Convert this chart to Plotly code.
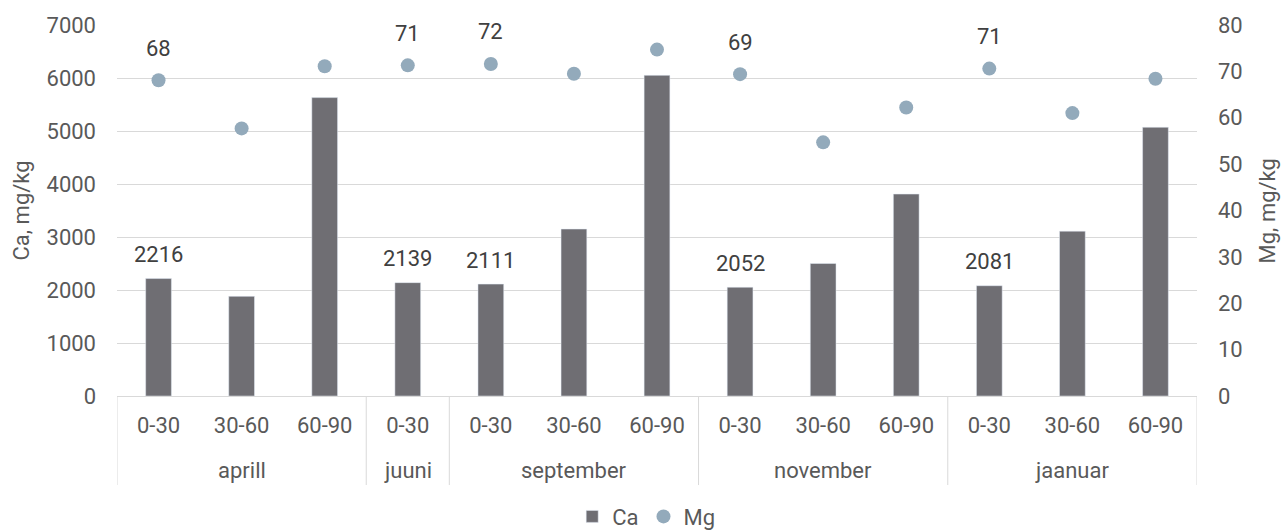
import plotly.graph_objects as go
from plotly.subplots import make_subplots

# Sampling months and depth intervals (cm)
months = ["aprill", "aprill", "aprill", "juuni", "september", "september", "september",
          "november", "november", "november", "jaanuar", "jaanuar", "jaanuar"]
depths = ["0-30", "30-60", "60-90", "0-30", "0-30", "30-60", "60-90",
          "0-30", "30-60", "60-90", "0-30", "30-60", "60-90"]

# Exchangeable Ca and Mg, mg/kg
ca = [2216, 1880, 5630, 2139, 2111, 3150, 6050, 2052, 2500, 3810, 2081, 3110, 5070]
mg = [68.1, 57.7, 71.1, 71.3, 71.6, 69.5, 74.7, 69.4, 54.7, 62.2, 70.6, 61.0, 68.4]

FONT = "Roboto"
TXT = "#595959"
LBL = "#404040"
GRID = "#d9d9d9"
BAR = "#6f6e73"
DOT = "#93aabb"
FS = 22

pos = list(range(len(depths)))
labelled = [i for i, d in enumerate(depths) if d == "0-30"]

# contiguous month groups: (name, first index, last index)
groups = []
for i, m in enumerate(months):
    if groups and groups[-1][0] == m:
        groups[-1][2] = i
    else:
        groups.append([m, i, i])

fig = make_subplots(specs=[[{"secondary_y": True}]])

fig.add_trace(go.Bar(x=pos, y=ca, name="Ca", marker_color=BAR, width=0.31),
              secondary_y=False)
fig.add_trace(go.Scatter(x=pos, y=mg, name="Mg", mode="markers",
                         marker=dict(color=DOT, size=14)), secondary_y=True)

# value labels for the 0-30 cm layer
for i in labelled:
    fig.add_annotation(x=i, y=ca[i], xref="x", yref="y", text=f"{ca[i]:.0f}",
                       showarrow=False, yshift=24, font=dict(size=FS, color=LBL, family=FONT))
    fig.add_annotation(x=i, y=mg[i], xref="x", yref="y2", text=f"{mg[i]:.0f}",
                       showarrow=False, yshift=32, font=dict(size=FS, color=LBL, family=FONT))

# month row and group dividers below the depth labels
for name, a, b in groups:
    fig.add_annotation(x=(a + b) / 2, y=-0.1995, xref="x", yref="paper", text=name,
                       showarrow=False, yanchor="middle",
                       font=dict(size=FS, color=TXT, family=FONT))
for edge in [g[1] - 0.5 for g in groups] + [groups[-1][2] + 0.5]:
    fig.add_shape(type="line", x0=edge, x1=edge, y0=0, y1=-0.24, xref="x", yref="paper",
                  line=dict(color=GRID, width=1))

# axis titles
fig.add_annotation(x=-0.088, y=0.5, xref="paper", yref="paper", text="Ca, mg/kg",
                   textangle=-90, xanchor="center", yanchor="middle", showarrow=False,
                   font=dict(size=FS, color=TXT, family=FONT))
fig.add_annotation(x=1.0657, y=0.5, xref="paper", yref="paper", text="Mg, mg/kg",
                   textangle=-90, xanchor="center", yanchor="middle", showarrow=False,
                   font=dict(size=FS, color=TXT, family=FONT))

fig.update_layout(
    width=1282, height=530,
    margin=dict(l=117, r=85, t=25, b=134, autoexpand=False),
    paper_bgcolor="white", plot_bgcolor="white",
    font=dict(family=FONT, size=FS, color=TXT),
    showlegend=True,
    legend=dict(orientation="h", x=0.49, xanchor="center", y=-0.325, yanchor="middle",
                font=dict(size=FS, color=TXT), itemwidth=30, tracegroupgap=0),
)
fig.update_xaxes(domain=[0, 1], range=[-0.5, len(depths) - 0.5], tickmode="array",
                 tickvals=pos, ticktext=depths, showline=True, linecolor=GRID, linewidth=1,
                 showgrid=False, zeroline=False, ticks="", ticklabelstandoff=10,
                 automargin=False, tickfont=dict(size=FS, color=TXT))
fig.update_yaxes(range=[0, 7000], dtick=1000, showgrid=True, gridcolor=GRID, gridwidth=1,
                 zeroline=False, showline=False, ticks="", automargin=False,
                 ticklabelstandoff=20,
                 tickfont=dict(size=FS, color=TXT), secondary_y=False)
fig.update_yaxes(range=[0, 80], dtick=10, showgrid=False, zeroline=False, showline=False,
                 ticks="", automargin=False, ticklabelstandoff=20,
                 tickfont=dict(size=FS, color=TXT), secondary_y=True)

fig.write_html("out.html")
